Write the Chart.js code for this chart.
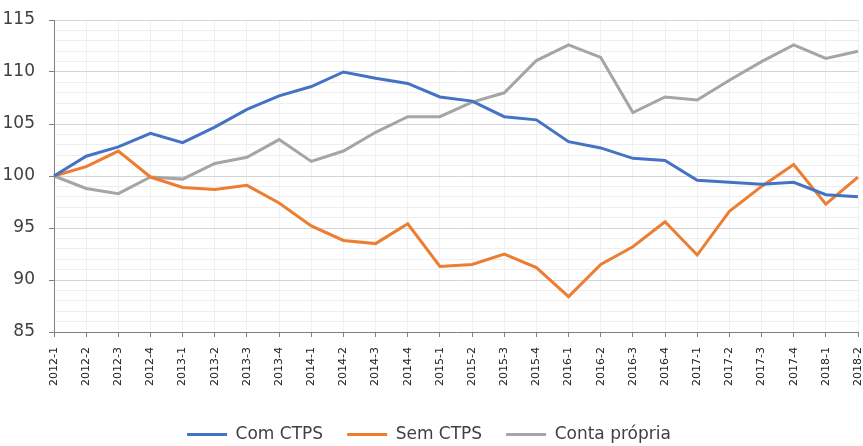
<!DOCTYPE html>
<html>
<head>
<meta charset="utf-8">
<script src="https://cdn.jsdelivr.net/npm/chart.js@4.4.1/dist/chart.umd.min.js"></script>
<style>
  html, body { margin: 0; padding: 0; background: #fff; }
  #wrap { width: 863px; height: 446px; }
</style>
</head>
<body>
<div id="wrap"><canvas id="grafico" width="863" height="446"></canvas></div>
<script>
// trimestres
const trimestres = [
    '2012-1', '2012-2', '2012-3', '2012-4',
    '2013-1', '2013-2', '2013-3', '2013-4',
    '2014-1', '2014-2', '2014-3', '2014-4',
    '2015-1', '2015-2', '2015-3', '2015-4',
    '2016-1', '2016-2', '2016-3', '2016-4',
    '2017-1', '2017-2', '2017-3', '2017-4',
    '2018-1', '2018-2'
];

// índices (2012-1 = 100)
const comCTPS = [
    100.0, 101.9, 102.8, 104.1, 103.2, 104.7, 106.4, 107.7,
    108.6, 110.0, 109.4, 108.9, 107.6, 107.2, 105.7, 105.4,
    103.3, 102.7, 101.7, 101.5, 99.6, 99.4, 99.2, 99.4,
    98.2, 98.0
];
const semCTPS = [
    100.0, 100.9, 102.4, 99.9, 98.9, 98.7, 99.1, 97.4,
    95.2, 93.8, 93.5, 95.4, 91.3, 91.5, 92.5, 91.2,
    88.4, 91.5, 93.2, 95.6, 92.4, 96.6, 99.0, 101.1,
    97.3, 99.9
];
const contaPropria = [
    100.0, 98.8, 98.3, 99.9, 99.7, 101.2, 101.8, 103.5,
    101.4, 102.4, 104.2, 105.7, 105.7, 107.1, 108.0, 111.1,
    112.6, 111.4, 106.1, 107.6, 107.3, 109.2, 111.0, 112.6,
    111.3, 112.0
];

const yMin = 85, yMax = 115;
const fonte = "'DejaVu Sans', sans-serif";

function serie(label, data, cor) {
    return {
        label: label,
        data: data,
        borderColor: cor,
        backgroundColor: cor,
        borderWidth: 3,
        pointRadius: 0,
        tension: 0,
        fill: false
    };
}

const ctx = document.getElementById('grafico').getContext('2d');
const chart = new Chart(ctx, {
    type: 'line',
    data: {
        labels: trimestres,
        datasets: [
            serie('Com CTPS', comCTPS, '#4472c4'),
            serie('Sem CTPS', semCTPS, '#ed7d31'),
            serie('Conta própria', contaPropria, '#a5a5a5')
        ]
    },
    options: {
        responsive: false,
        animation: false,
        layout: { padding: { top: 20, right: 5, left: 0, bottom: -7 } },
        plugins: {
            tooltip: { enabled: false },
            legend: {
                position: 'bottom',
                labels: {
                    boxWidth: 40,
                    boxHeight: 3,
                    padding: 24,
                    color: '#404040',
                    font: { family: fonte, size: 17 },
                    // amostra da legenda como traço cheio, sem contorno
                    generateLabels: function (c) {
                        return Chart.defaults.plugins.legend.labels.generateLabels(c).map(l => {
                            l.fillStyle = l.strokeStyle;
                            l.lineWidth = 0;
                            return l;
                        });
                    }
                }
            }
        },
        scales: {
            x: {
                offset: false,
                grid: {
                    color: '#f0f0f0',
                    lineWidth: 1,
                    tickLength: 5,
                    tickColor: '#808080'
                },
                border: { color: '#808080', width: 1 },
                ticks: {
                    autoSkip: false,
                    minRotation: 90,
                    maxRotation: 90,
                    color: '#222222',
                    padding: 10,
                    font: { family: fonte, size: 11 }
                },
                afterFit: function (s) {
                    s.height = 70;
                    s.paddingLeft = 0;
                    s.paddingRight = 0;
                }
            },
            y: {
                min: yMin,
                max: yMax,
                grid: {
                    color: c => (c.tick && c.tick.value % 5 === 0) ? '#d4d4d4' : '#eeeeee',
                    lineWidth: 1,
                    tickLength: 5,
                    tickColor: c => (c.tick && c.tick.value % 5 === 0) ? '#808080' : 'rgba(0,0,0,0)'
                },
                border: { color: '#808080', width: 1 },
                ticks: {
                    stepSize: 1,
                    autoSkip: false,
                    color: '#404040',
                    padding: 14,
                    font: { family: fonte, size: 17 },
                    callback: v => (v % 5 === 0 ? String(v) : '')
                },
                afterFit: function (s) {
                    s.width = 54;
                    s.paddingTop = 0;
                    s.paddingBottom = 0;
                }
            }
        }
    }
});
</script>
</body>
</html>
